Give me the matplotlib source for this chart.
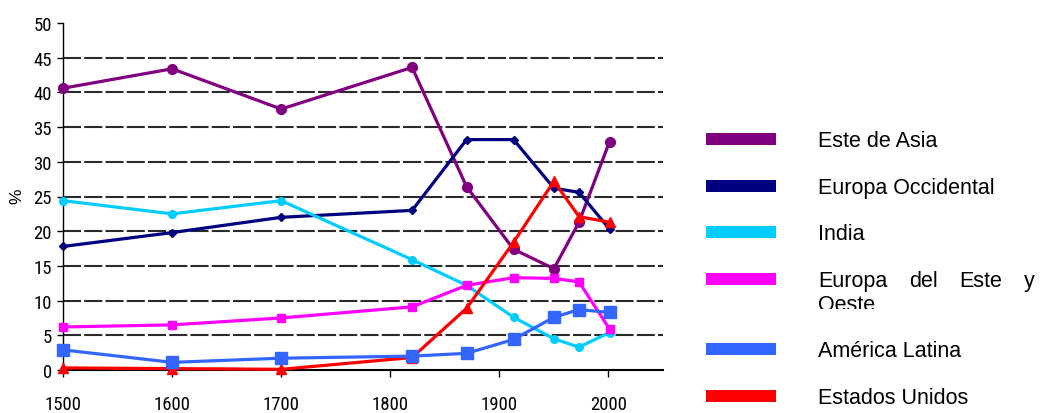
import matplotlib
matplotlib.use("Agg")
import matplotlib.pyplot as plt
from matplotlib import font_manager
from matplotlib.patches import Rectangle
from matplotlib.transforms import Bbox, TransformedBbox, Affine2D

# Share of world GDP by region (%)
years = [1500, 1600, 1700, 1820, 1870, 1913, 1950, 1973, 2001]
este_asia = [40.6, 43.4, 37.6, 43.6, 26.4, 17.4, 14.6, 21.3, 32.9]
europa_occ = [17.8, 19.8, 22.0, 23.0, 33.2, 33.2, 26.2, 25.6, 20.3]
india = [24.4, 22.5, 24.4, 15.9, 12.2, 7.6, 4.5, 3.3, 5.4]
europa_este = [6.2, 6.5, 7.5, 9.1, 12.2, 13.3, 13.2, 12.7, 5.9]
america_latina = [2.9, 1.1, 1.7, 2.0, 2.4, 4.4, 7.6, 8.7, 8.3]
estados_unidos = [0.3, 0.2, 0.1, 1.8, 8.9, 18.4, 27.2, 22.1, 21.3]

series_names = ["Este de Asia", "Europa Occidental", "India",
                "Europa del Este y Oeste", "América Latina", "Estados Unidos"]
y_ticks = [0, 5, 10, 15, 20, 25, 30, 35, 40, 45, 50]
x_ticks = [1500, 1600, 1700, 1800, 1900, 2000]

plt.rcParams["lines.scale_dashes"] = False

# pick a narrow face for the tick labels if one is installed
installed = {(f.name, f.stretch) for f in font_manager.fontManager.ttflist}
names = {n for n, _ in installed}
tick_family, tick_stretch = ["Liberation Sans", "DejaVu Sans"], "normal"
for cand in ["Liberation Sans Narrow", "Roboto Condensed", "Open Sans Condensed",
             "Noto Sans Condensed"]:
    if cand in names:
        tick_family = [cand, "DejaVu Sans"]
        break
else:
    for n, s in installed:
        if s in ("condensed", "semi-condensed") and n in ("DejaVu Sans", "Roboto", "Noto Sans", "Open Sans"):
            tick_family, tick_stretch = [n, "DejaVu Sans"], s
            break

W, H = 1040, 414
DPI = 100
fig = plt.figure(figsize=(W / DPI, H / DPI), dpi=DPI)
fig.patch.set_facecolor("white")

sans = ["Liberation Sans", "DejaVu Sans"]

ax = fig.add_axes([63 / W, (H - 371) / H, 600 / W, 347 / H])
ax.set_facecolor("white")

styles = {
    "Este de Asia": dict(color="#800080", marker="o", ms=7, lw=2.3),
    "Europa Occidental": dict(color="#000080", marker="D", ms=4.5, lw=2.3),
    "India": dict(color="#00CCFF", marker="o", ms=5.5, lw=2.3),
    "Europa del Este y Oeste": dict(color="#FF00FF", marker="s", ms=5.5, lw=2.3),
    "América Latina": dict(color="#3366FF", marker="s", ms=8.5, lw=2.3),
    "Estados Unidos": dict(color="#FF0000", marker="^", ms=7, lw=2.3),
}
values = {
    "Este de Asia": este_asia,
    "Europa Occidental": europa_occ,
    "India": india,
    "Europa del Este y Oeste": europa_este,
    "América Latina": america_latina,
    "Estados Unidos": estados_unidos,
}

# horizontal dashed grid
for yv in y_ticks[1:-1]:
    ax.axhline(yv, color="#2b2b2b", lw=1.5, linestyle=(0, (13, 2.3)),
               zorder=1)

draw_order = ["Este de Asia", "Europa Occidental", "India",
              "Europa del Este y Oeste", "Estados Unidos", "América Latina"]
for i, name in enumerate(draw_order):
    st = styles[name]
    ax.plot(years, values[name], color=st["color"], lw=st["lw"],
            marker=st["marker"], ms=st["ms"], mec=st["color"],
            mfc=st["color"], clip_on=False, zorder=3 + i)

ax.set_xlim(1500, 2050)
ax.set_ylim(0, 50)
ax.set_xticks(x_ticks)
ax.set_yticks(y_ticks)
ax.set_xticklabels([str(v) for v in x_ticks], family=tick_family,
                   stretch=tick_stretch, fontsize=13.5)
ax.set_yticklabels([str(v) for v in y_ticks], family=tick_family,
                   stretch=tick_stretch, fontsize=13.5)
ax.tick_params(axis="x", direction="out", length=5, width=1, pad=13,
               color="black")
ax.tick_params(axis="y", direction="out", length=4, width=1, pad=4,
               color="black")

for side in ("top", "right"):
    ax.spines[side].set_visible(False)
ax.spines["left"].set_color("black")
ax.spines["left"].set_linewidth(1.0)
ax.spines["bottom"].set_color("black")
ax.spines["bottom"].set_linewidth(1.5)

ax.set_ylabel("%", family=sans, fontsize=12.5, va="center")
ax.yaxis.set_label_coords(-46 / 600, 0.505)

# title sits just above the figure's top edge
fig.text(578 / W, 1 + 3.5 / H,
         "Participación en el PIB mundial, 1500-2001 (porcentaje, ppa)",
         family=sans, fontsize=15, ha="center", va="baseline")

# legend drawn in pixel coordinates
px = Affine2D().scale(1 / W, 1 / H) + fig.transFigure
row_y = [140, 187, 233, 280, 350, 397]
bar_x0, bar_x1, bar_h = 706, 776, 12
text_x = 818
fs_leg = 15.5

fig.canvas.draw()
renderer = fig.canvas.get_renderer()

for name, yc in zip(series_names, row_y):
    col = styles[name]["color"]
    fig.add_artist(Rectangle((bar_x0, H - yc - bar_h / 2), bar_x1 - bar_x0,
                             bar_h, transform=px, facecolor=col,
                             edgecolor="none"))
    base = H - (yc + 7)
    if name == "Europa del Este y Oeste":
        # justified first line, second line cut by the row box
        words = ["Europa", "del", "Este", "y"]
        right = 1035
        texts = []
        widths = []
        for w in words:
            t = fig.text(0, base, w, family=sans, fontsize=fs_leg,
                         ha="left", va="baseline", transform=px)
            bb = t.get_window_extent(renderer=renderer)
            widths.append(bb.width)
            texts.append(t)
        gap = (right - text_x - sum(widths)) / (len(words) - 1)
        xpos = text_x
        for t, wdt in zip(texts, widths):
            t.set_position((xpos, base))
            xpos += wdt + gap
        oeste = fig.text(text_x, base - 24, "Oeste", family=sans,
                         fontsize=fs_leg, ha="left", va="baseline",
                         transform=px)
        clip = TransformedBbox(Bbox.from_extents(0, H - 310, W, H), px)
        oeste.set_clip_box(clip)
        oeste.set_clip_on(True)
    else:
        fig.text(text_x, base, name, family=sans, fontsize=fs_leg,
                 ha="left", va="baseline", transform=px)

fig.savefig("out.png", dpi=DPI, facecolor="white")
